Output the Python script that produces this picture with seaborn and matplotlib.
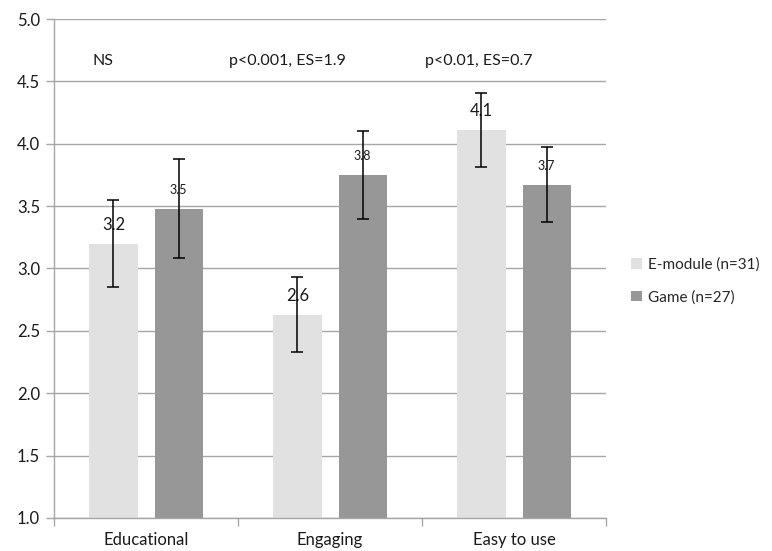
import matplotlib
matplotlib.use("Agg")
import matplotlib.pyplot as plt
import seaborn as sns
import pandas as pd
import numpy as np

categories = ["Educational", "Engaging", "Easy to use"]
series_names = ["E-module (n=31)", "Game (n=27)"]
emodule_values = [3.20, 2.63, 4.11]
game_values = [3.48, 3.75, 3.67]
emodule_err = [0.35, 0.30, 0.30]
game_err = [0.40, 0.35, 0.30]
annotations = ["NS", "p<0.001, ES=1.9", "p<0.01, ES=0.7"]
yticks = [1.0, 1.5, 2.0, 2.5, 3.0, 3.5, 4.0, 4.5, 5.0]

sns.set_theme(style="white")
plt.rcParams["font.family"] = ["Lato", "DejaVu Sans"]

df = pd.DataFrame({
    "category": categories * 2,
    "series": [series_names[0]] * 3 + [series_names[1]] * 3,
    "value": emodule_values + game_values,
})

fig = plt.figure(figsize=(7.72, 5.51), dpi=100)
ax = fig.add_axes([0.07, 0.06, 0.715, 0.9055])

colors = ["#e1e1e1", "#979797"]
sns.barplot(data=df, x="category", y="value", hue="series", order=categories,
            hue_order=series_names, palette=colors, width=0.71, gap=0.26,
            errorbar=None, ax=ax, saturation=1, linewidth=0)

errs = [emodule_err, game_err]
vals = [emodule_values, game_values]
label_sizes = [12, 9]
bar_containers = list(ax.containers)
for ci, cont in enumerate(bar_containers):
    xs = [p.get_x() + p.get_width() / 2 for p in cont.patches]
    ax.errorbar(xs, vals[ci], yerr=errs[ci], fmt="none", ecolor="black",
                elinewidth=1.1, capsize=4.5, capthick=1.1, zorder=5)
    for x, v in zip(xs, vals[ci]):
        ax.text(x, v + 0.15, f"{v:.1f}", ha="center", va="center",
                fontsize=label_sizes[ci], color="#1a1a1a", zorder=4)

ann_x = [-0.235, 0.77, 1.81]
for i, t in enumerate(annotations):
    ax.text(ann_x[i], 4.66, t, ha="center", va="center", fontsize=11.5, color="#1a1a1a")

ax.set_ylim(1.0, 5.0)
ax.set_xlim(-0.5, 2.5)
ax.set_yticks(yticks)
ax.set_yticklabels([f"{y:.1f}" for y in yticks], fontsize=12, color="#1a1a1a")
ax.yaxis.grid(True, color="#a6a6a6", linewidth=1.0)
ax.set_axisbelow(True)
ax.set_xlabel("")
ax.set_ylabel("")
ax.set_xticks([0, 1, 2])
ax.set_xticklabels(categories, fontsize=12, color="#1a1a1a")
ax.tick_params(axis="x", length=0, pad=10)
ax.set_xticks([-0.5, 0.5, 1.5, 2.5], minor=True)
ax.tick_params(axis="x", which="minor", length=6, color="#a6a6a6", width=1, direction="out", bottom=True)
ax.tick_params(axis="y", length=6, color="#a6a6a6", width=1, direction="out", left=True, pad=4)
for s in ["top", "right"]:
    ax.spines[s].set_visible(False)
for s in ["left", "bottom"]:
    ax.spines[s].set_color("#a6a6a6")
    ax.spines[s].set_linewidth(1.0)

leg = ax.legend(loc="center left", bbox_to_anchor=(1.045, 0.475), frameon=False,
                fontsize=11, handlelength=0.7, handleheight=0.7, handletextpad=0.4,
                labelspacing=1.2, borderaxespad=0, borderpad=0)

fig.savefig("out.png", dpi=100)
